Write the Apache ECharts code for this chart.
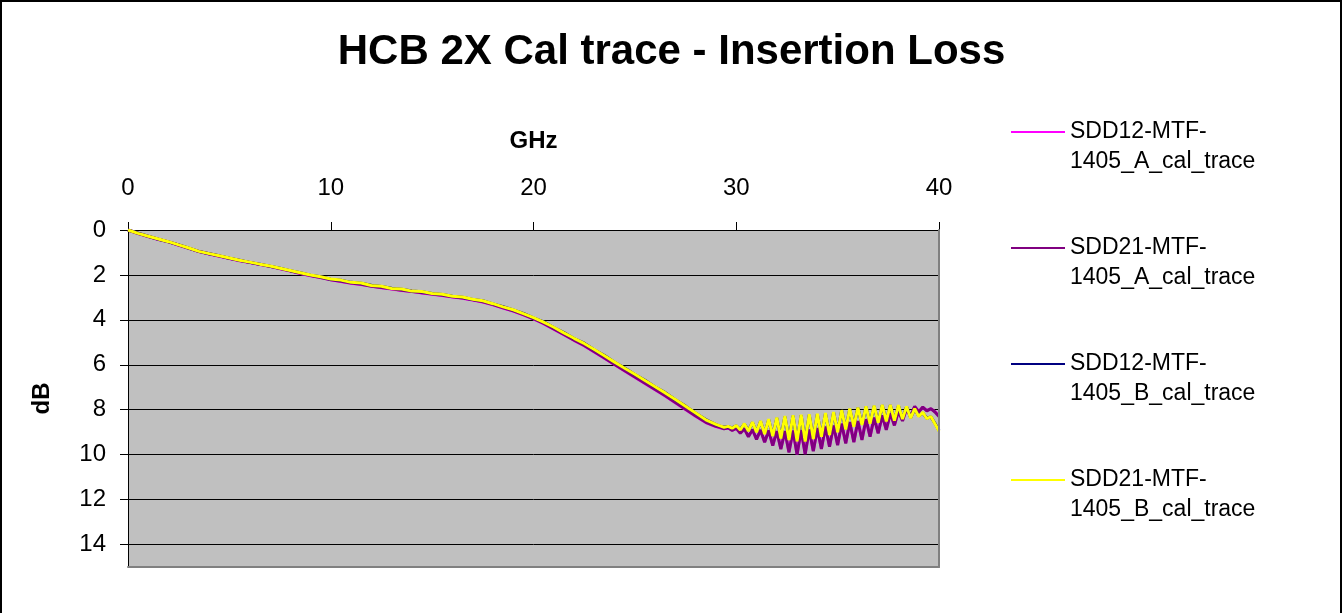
<!DOCTYPE html>
<html>
<head>
<meta charset="utf-8">
<title>HCB 2X Cal trace - Insertion Loss</title>
<script src="https://cdn.jsdelivr.net/npm/echarts@6/dist/echarts.min.js"></script>
<style>
	html, body { margin: 0; padding: 0; background: #fff; }
	#main { width: 1343px; height: 613px; }
</style>
</head>
<body>
<div id="main"></div>
<script>
// frequency points (GHz)
const freq = [
	0, 0.5, 1, 1.5, 2, 2.5, 3, 3.5, 4, 4.5, 5, 5.5, 6, 6.5, 7, 7.5, 8, 8.5, 9, 9.5,
	10, 10.5, 11, 11.5, 12, 12.5, 13, 13.5, 14, 14.5, 15, 15.5, 16, 16.5, 17, 17.5, 18, 18.5, 19, 19.5,
	20, 20.5, 21, 21.5, 22, 22.5, 23, 23.5, 24, 24.5, 25, 25.5, 26, 26.5, 27, 27.5, 28, 28.5, 29,
	29.2, 29.4, 29.6, 29.8, 30, 30.2, 30.4, 30.6, 30.8, 31, 31.2, 31.4, 31.6, 31.8, 32, 32.2, 32.4, 32.6, 32.8, 33,
	33.2, 33.4, 33.6, 33.8, 34, 34.2, 34.4, 34.6, 34.8, 35, 35.2, 35.4, 35.6, 35.8, 36, 36.2, 36.4, 36.6, 36.8, 37,
	37.2, 37.4, 37.6, 37.8, 38, 38.2, 38.4, 38.6, 38.8, 39, 39.2, 39.4, 39.6, 39.8, 40
];

const dbTicks = [0, 2, 4, 6, 8, 10, 12, 14];

const seriesNames = [
	"SDD12-MTF-1405_A_cal_trace",
	"SDD21-MTF-1405_A_cal_trace",
	"SDD12-MTF-1405_B_cal_trace",
	"SDD21-MTF-1405_B_cal_trace"
];

// dB loss values
const sdd12A = [
	0.00, 0.15, 0.29, 0.42, 0.53, 0.68, 0.82, 0.96, 1.07, 1.17, 1.27, 1.37, 1.45, 1.54, 1.62, 1.73, 1.83, 1.94, 2.04, 2.12,
	2.21, 2.29, 2.37, 2.43, 2.49, 2.57, 2.63, 2.69, 2.73, 2.80, 2.86, 2.92, 2.98, 3.04, 3.12, 3.21, 3.33, 3.47, 3.61, 3.78,
	3.96, 4.17, 4.41, 4.66, 4.91, 5.15, 5.43, 5.71, 5.99, 6.27, 6.55, 6.83, 7.11, 7.39, 7.69, 7.99, 8.29, 8.57, 8.75,
	8.80, 8.84, 8.82, 8.90, 8.84, 9.02, 8.86, 9.18, 8.90, 9.30, 8.92, 9.42, 8.94, 9.58, 8.96, 9.72, 8.97, 9.86, 8.94, 9.96,
	8.92, 9.95, 8.90, 9.82, 8.84, 9.72, 8.77, 9.62, 8.72, 9.55, 8.64, 9.47, 8.57, 9.42, 8.52, 9.32, 8.44, 9.18, 8.37, 9.02,
	8.27, 8.88, 8.17, 8.68, 8.07, 8.48, 7.97, 8.28, 7.87, 8.08, 7.90, 8.03, 7.97, 8.08, 8.28
];
const sdd21A = [
	0.00, 0.16, 0.29, 0.41, 0.53, 0.67, 0.81, 0.96, 1.06, 1.16, 1.26, 1.36, 1.44, 1.53, 1.62, 1.72, 1.82, 1.93, 2.03, 2.12,
	2.22, 2.28, 2.36, 2.42, 2.50, 2.56, 2.62, 2.68, 2.74, 2.79, 2.85, 2.91, 2.97, 3.03, 3.11, 3.20, 3.32, 3.46, 3.60, 3.77,
	3.95, 4.16, 4.40, 4.65, 4.90, 5.14, 5.42, 5.70, 5.98, 6.26, 6.54, 6.82, 7.10, 7.38, 7.68, 7.98, 8.28, 8.56, 8.74,
	8.78, 8.85, 8.80, 8.92, 8.82, 9.05, 8.85, 9.20, 8.88, 9.32, 8.90, 9.45, 8.92, 9.60, 8.95, 9.75, 8.95, 9.90, 8.92, 10.00,
	8.90, 9.98, 8.88, 9.85, 8.82, 9.75, 8.75, 9.65, 8.70, 9.58, 8.62, 9.50, 8.55, 9.45, 8.50, 9.35, 8.42, 9.20, 8.35, 9.05,
	8.25, 8.90, 8.15, 8.70, 8.05, 8.50, 7.95, 8.30, 7.85, 8.10, 7.88, 8.05, 7.95, 8.10, 8.30
];
const sdd12B = [
	0.00, 0.14, 0.28, 0.41, 0.53, 0.66, 0.81, 0.95, 1.06, 1.15, 1.26, 1.35, 1.44, 1.52, 1.61, 1.70, 1.81, 1.90, 2.01, 2.08,
	2.19, 2.24, 2.33, 2.37, 2.46, 2.51, 2.59, 2.64, 2.71, 2.75, 2.83, 2.87, 2.95, 2.99, 3.09, 3.15, 3.29, 3.41, 3.56, 3.71,
	3.91, 4.09, 4.34, 4.57, 4.83, 5.04, 5.33, 5.59, 5.89, 6.14, 6.43, 6.69, 6.99, 7.24, 7.56, 7.84, 8.16, 8.44, 8.66,
	8.73, 8.77, 8.75, 8.81, 8.72, 8.88, 8.64, 8.93, 8.57, 8.98, 8.52, 9.06, 8.44, 9.16, 8.37, 9.26, 8.30, 9.33, 8.27, 9.38,
	8.24, 9.40, 8.22, 9.28, 8.20, 9.18, 8.17, 9.10, 8.12, 8.98, 8.04, 8.86, 7.97, 8.73, 7.92, 8.66, 7.87, 8.60, 7.84, 8.56,
	7.80, 8.50, 7.80, 8.46, 7.82, 8.40, 7.87, 8.36, 7.97, 8.28, 8.14, 8.38, 8.32, 8.60, 8.93
];
const sdd21B = [
	0.00, 0.15, 0.28, 0.40, 0.52, 0.66, 0.80, 0.95, 1.05, 1.15, 1.25, 1.35, 1.43, 1.52, 1.60, 1.70, 1.80, 1.90, 2.00, 2.08,
	2.18, 2.23, 2.33, 2.36, 2.47, 2.50, 2.60, 2.63, 2.72, 2.74, 2.83, 2.86, 2.95, 2.98, 3.08, 3.15, 3.28, 3.42, 3.55, 3.72,
	3.90, 4.10, 4.33, 4.58, 4.82, 5.05, 5.32, 5.60, 5.88, 6.15, 6.42, 6.70, 6.98, 7.25, 7.55, 7.85, 8.15, 8.45, 8.65,
	8.72, 8.78, 8.74, 8.82, 8.70, 8.90, 8.62, 8.95, 8.55, 9.00, 8.50, 9.08, 8.42, 9.18, 8.35, 9.28, 8.28, 9.35, 8.25, 9.40,
	8.22, 9.42, 8.20, 9.30, 8.18, 9.20, 8.15, 9.12, 8.10, 9.00, 8.02, 8.88, 7.95, 8.75, 7.90, 8.68, 7.85, 8.62, 7.82, 8.58,
	7.78, 8.52, 7.78, 8.48, 7.80, 8.42, 7.85, 8.38, 7.95, 8.30, 8.12, 8.40, 8.30, 8.62, 8.95
];

const seriesValues = [sdd12A, sdd21A, sdd12B, sdd21B];
const seriesColors = ["#FF00FF", "#800080", "#000080", "#FFFF00"];

const font = "'Liberation Sans', Arial, sans-serif";

const chart = echarts.init(document.getElementById("main"), null, { renderer: "canvas" });

const option = {
	animation: false,
	backgroundColor: "#ffffff",
	textStyle: { fontFamily: font, color: "#000" },
	title: {
		text: "HCB 2X Cal trace - Insertion Loss",
		left: "center",
		top: 26,
		textStyle: { fontSize: 42, fontWeight: "bold", fontFamily: font, color: "#000" },
	},
	legend: {
		orient: "vertical",
		left: 1006,
		top: 82,
		itemWidth: 54,
		itemHeight: 2,
		itemGap: 26,
		icon: "rect",
		data: seriesNames,
		// empty first line so the marker sits beside the first text line
		formatter: (name) => "\n" + name.replace("MTF-", "MTF-\n"),
		textStyle: {
			fontSize: 23,
			lineHeight: 30,
			fontFamily: font,
			color: "#000",
		},
	},
	grid: {
		left: 128,
		top: 230,
		right: 404,
		bottom: 46,
		show: true,
		backgroundColor: "#C0C0C0",
		borderWidth: 0,
	},
	xAxis: [
		{
			type: "value",
			position: "top",
			min: 0,
			max: 40,
			interval: 10,
			name: "GHz",
			nameLocation: "middle",
			nameGap: 77,
			nameTextStyle: { fontSize: 24, fontWeight: "bold", fontFamily: font, color: "#000" },
			axisLine: { show: true, onZero: false, lineStyle: { color: "#000", width: 1 } },
			axisTick: { show: true, length: 8, lineStyle: { color: "#000" } },
			axisLabel: { fontSize: 24, margin: 30, color: "#000", fontFamily: font },
			splitLine: { show: false },
		},
		{
			type: "value",
			position: "bottom",
			min: 0,
			max: 40,
			z: 5,
			axisLine: { show: true, onZero: false, lineStyle: { color: "#808080", width: 2 } },
			axisTick: { show: false },
			axisLabel: { show: false },
			splitLine: { show: false },
		},
	],
	yAxis: [
		{
			type: "value",
			inverse: true,
			min: 0,
			max: 15,
			interval: 2,
			name: "dB",
			nameLocation: "middle",
			nameGap: 74,
			nameTextStyle: { fontSize: 24, fontWeight: "bold", fontFamily: font, color: "#000" },
			axisLine: { show: true, onZero: false, lineStyle: { color: "#000", width: 1 } },
			axisTick: { show: true, length: 8, customValues: dbTicks, lineStyle: { color: "#000" } },
			axisLabel: {
				fontSize: 24,
				margin: 22,
				color: "#000",
				fontFamily: font,
				customValues: dbTicks,
			},
			splitLine: { show: true, lineStyle: { color: "#000", width: 1 } },
		},
		{
			type: "value",
			position: "right",
			inverse: true,
			min: 0,
			max: 15,
			z: 5,
			axisLine: { show: true, onZero: false, lineStyle: { color: "#808080", width: 2 } },
			axisTick: { show: false },
			axisLabel: { show: false },
			splitLine: { show: false },
		},
	],
	graphic: [
		{
			type: "polyline",
			silent: true,
			shape: { points: [[1, 613], [1, 1], [1341, 1], [1341, 613]] },
			style: { fill: null, stroke: "#000", lineWidth: 2 },
		},
	],
	series: seriesNames.map((name, i) => ({
		name: name,
		type: "line",
		xAxisIndex: 0,
		yAxisIndex: 0,
		showSymbol: false,
		symbol: "none",
		clip: true,
		data: freq.map((f, k) => [f, seriesValues[i][k]]),
		lineStyle: { color: seriesColors[i], width: 3 },
		itemStyle: { color: seriesColors[i] },
	})),
};

chart.setOption(option);
</script>
</body>
</html>
